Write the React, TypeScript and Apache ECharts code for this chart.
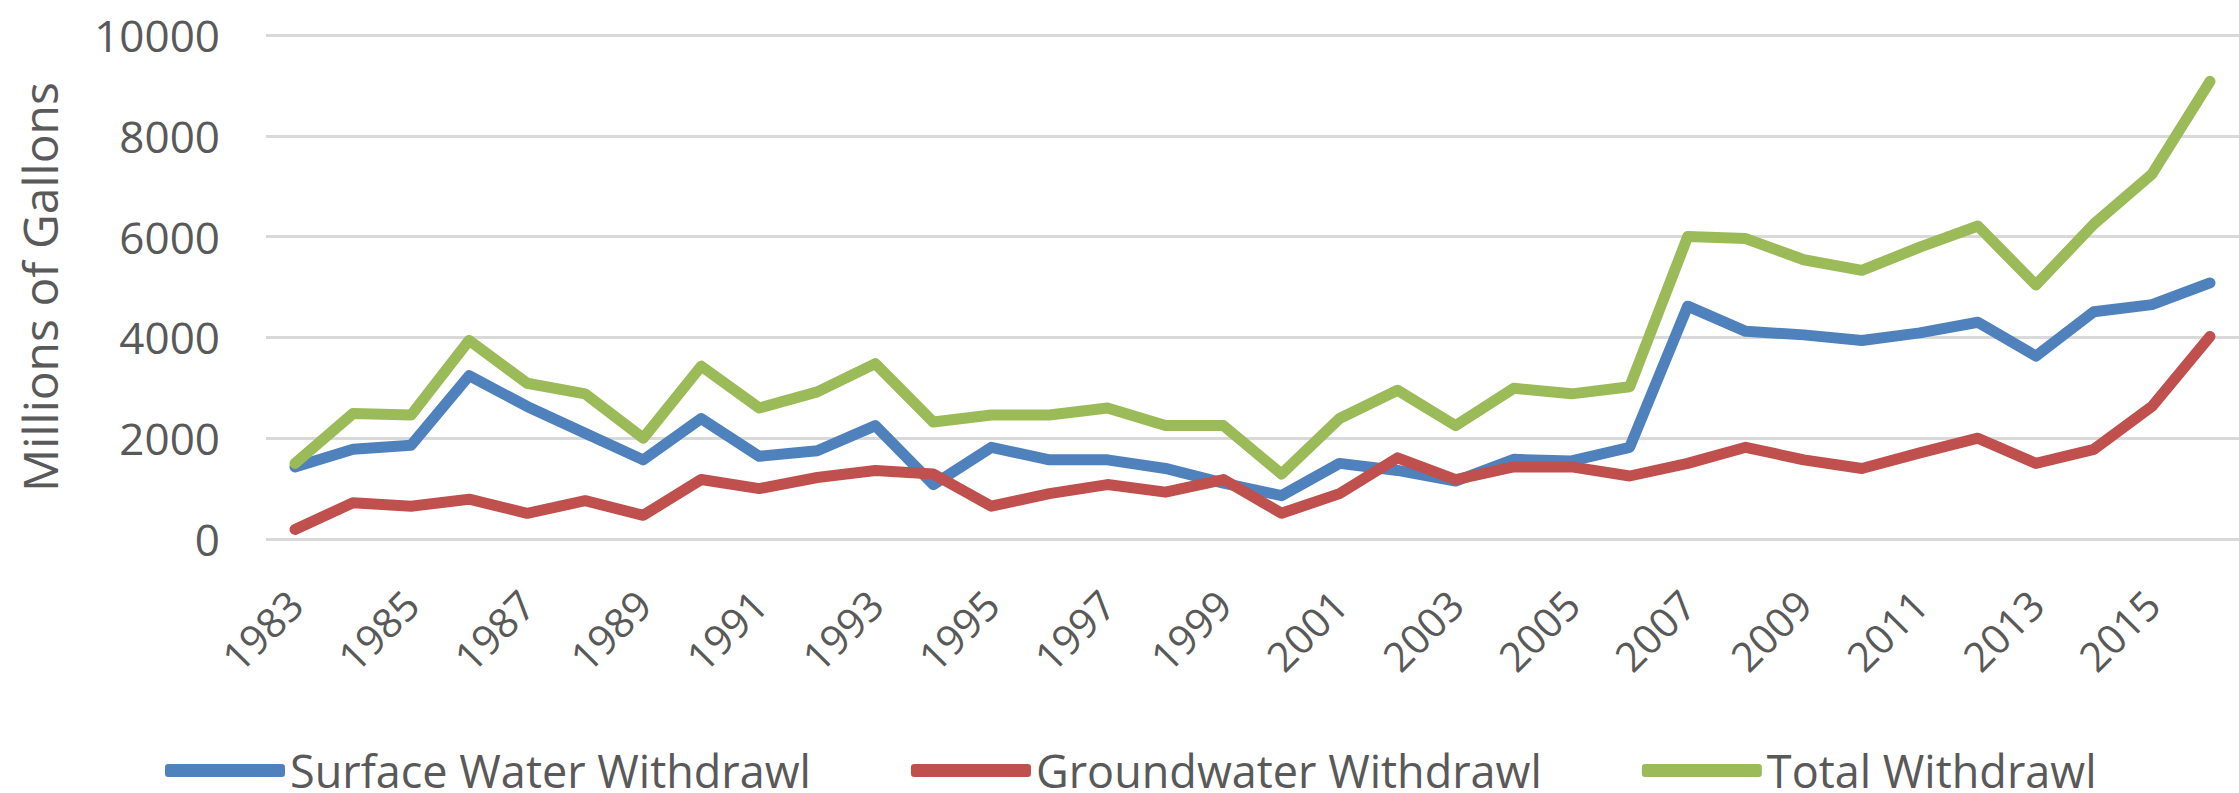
import React, { useEffect, useRef } from "react";
import * as echarts from "echarts";

const years: string[] = [
  "1983","1984","1985","1986","1987","1988","1989","1990","1991","1992","1993","1994",
  "1995","1996","1997","1998","1999","2000","2001","2002","2003","2004","2005","2006",
  "2007","2008","2009","2010","2011","2012","2013","2014","2015","2016",
];

const surfaceWater: number[] = [
  1430, 1780, 1860, 3240, 2630, 2100, 1570, 2390, 1640, 1750, 2250, 1080,
  1820, 1570, 1570, 1400, 1110, 860, 1500, 1360, 1150, 1580, 1550, 1820,
  4620, 4120, 4050, 3940, 4090, 4300, 3630, 4510, 4650, 5080,
];

const groundwater: number[] = [
  190, 720, 650, 790, 510, 760, 470, 1180, 1000, 1220, 1360, 1290,
  650, 900, 1080, 930, 1180, 510, 900, 1610, 1180, 1430, 1430, 1250,
  1500, 1820, 1570, 1400, 1710, 2000, 1500, 1780, 2630, 4020,
];

const totalWithdrawal: number[] = [
  1500, 2490, 2460, 3940, 3090, 2880, 2000, 3430, 2600, 2920, 3480, 2320,
  2460, 2460, 2600, 2250, 2250, 1290, 2390, 2950, 2250, 2990, 2880, 3020,
  6000, 5960, 5540, 5330, 5790, 6210, 5040, 6250, 7240, 9080,
];

const seriesNames: string[] = [
  "Surface Water Withdrawl",
  "Groundwater Withdrawl",
  "Total Withdrawl",
];

const seriesColors: string[] = ["#4F81BD", "#C0504D", "#9BBB59"];

export default function App() {
  const ref = useRef<HTMLDivElement>(null);

  useEffect(() => {
    if (!ref.current) return;
    const chart = echarts.init(ref.current, undefined, { renderer: "svg" });
    const font = "'Open Sans', 'DejaVu Sans', sans-serif";
    const textColor = "#595959";
    const dataSets = [surfaceWater, groundwater, totalWithdrawal];

    chart.setOption({
      animation: false,
      backgroundColor: "#ffffff",
      textStyle: { fontFamily: font },
      grid: { left: 266, top: 35, width: 1982, height: 504 },
      legend: {
        left: 160,
        top: 743,
        icon: "roundRect",
        itemWidth: 120,
        itemHeight: 13,
        itemGap: 100,
        textStyle: { fontFamily: font, fontSize: 45, color: textColor, lineHeight: 36 },
        data: seriesNames,
      },
      xAxis: {
        type: "category",
        data: years,
        boundaryGap: true,
        axisLine: { show: false },
        axisTick: { show: false },
        axisLabel: {
          interval: 1,
          rotate: 45,
          margin: 58,
          fontFamily: font,
          fontSize: 41,
          color: textColor,
        },
        splitLine: { show: false },
      },
      yAxis: {
        type: "value",
        min: 0,
        max: 10000,
        interval: 2000,
        name: "Millions of Gallons",
        nameLocation: "middle",
        nameRotate: 90,
        nameGap: 203,
        nameTextStyle: { fontFamily: font, fontSize: 48, color: textColor },
        axisLine: { show: false },
        axisTick: { show: false },
        axisLabel: {
          margin: 46,
          fontFamily: font,
          fontSize: 44,
          color: textColor,
          formatter: (v: number) => String(v),
        },
        splitLine: { lineStyle: { color: "#D9D9D9", width: 3 } },
      },
      series: seriesNames.map((name, i) => ({
        name,
        type: "line",
        data: dataSets[i],
        showSymbol: false,
        symbol: "none",
        smooth: false,
        color: seriesColors[i],
        lineStyle: { width: 11, color: seriesColors[i], cap: "round", join: "round" },
        itemStyle: { color: seriesColors[i] },
      })),
    });

    return () => chart.dispose();
  }, []);

  return (
    <div
      ref={ref}
      style={{ position: "fixed", left: 0, top: 0, width: 2239, height: 793 }}
    />
  );
}
